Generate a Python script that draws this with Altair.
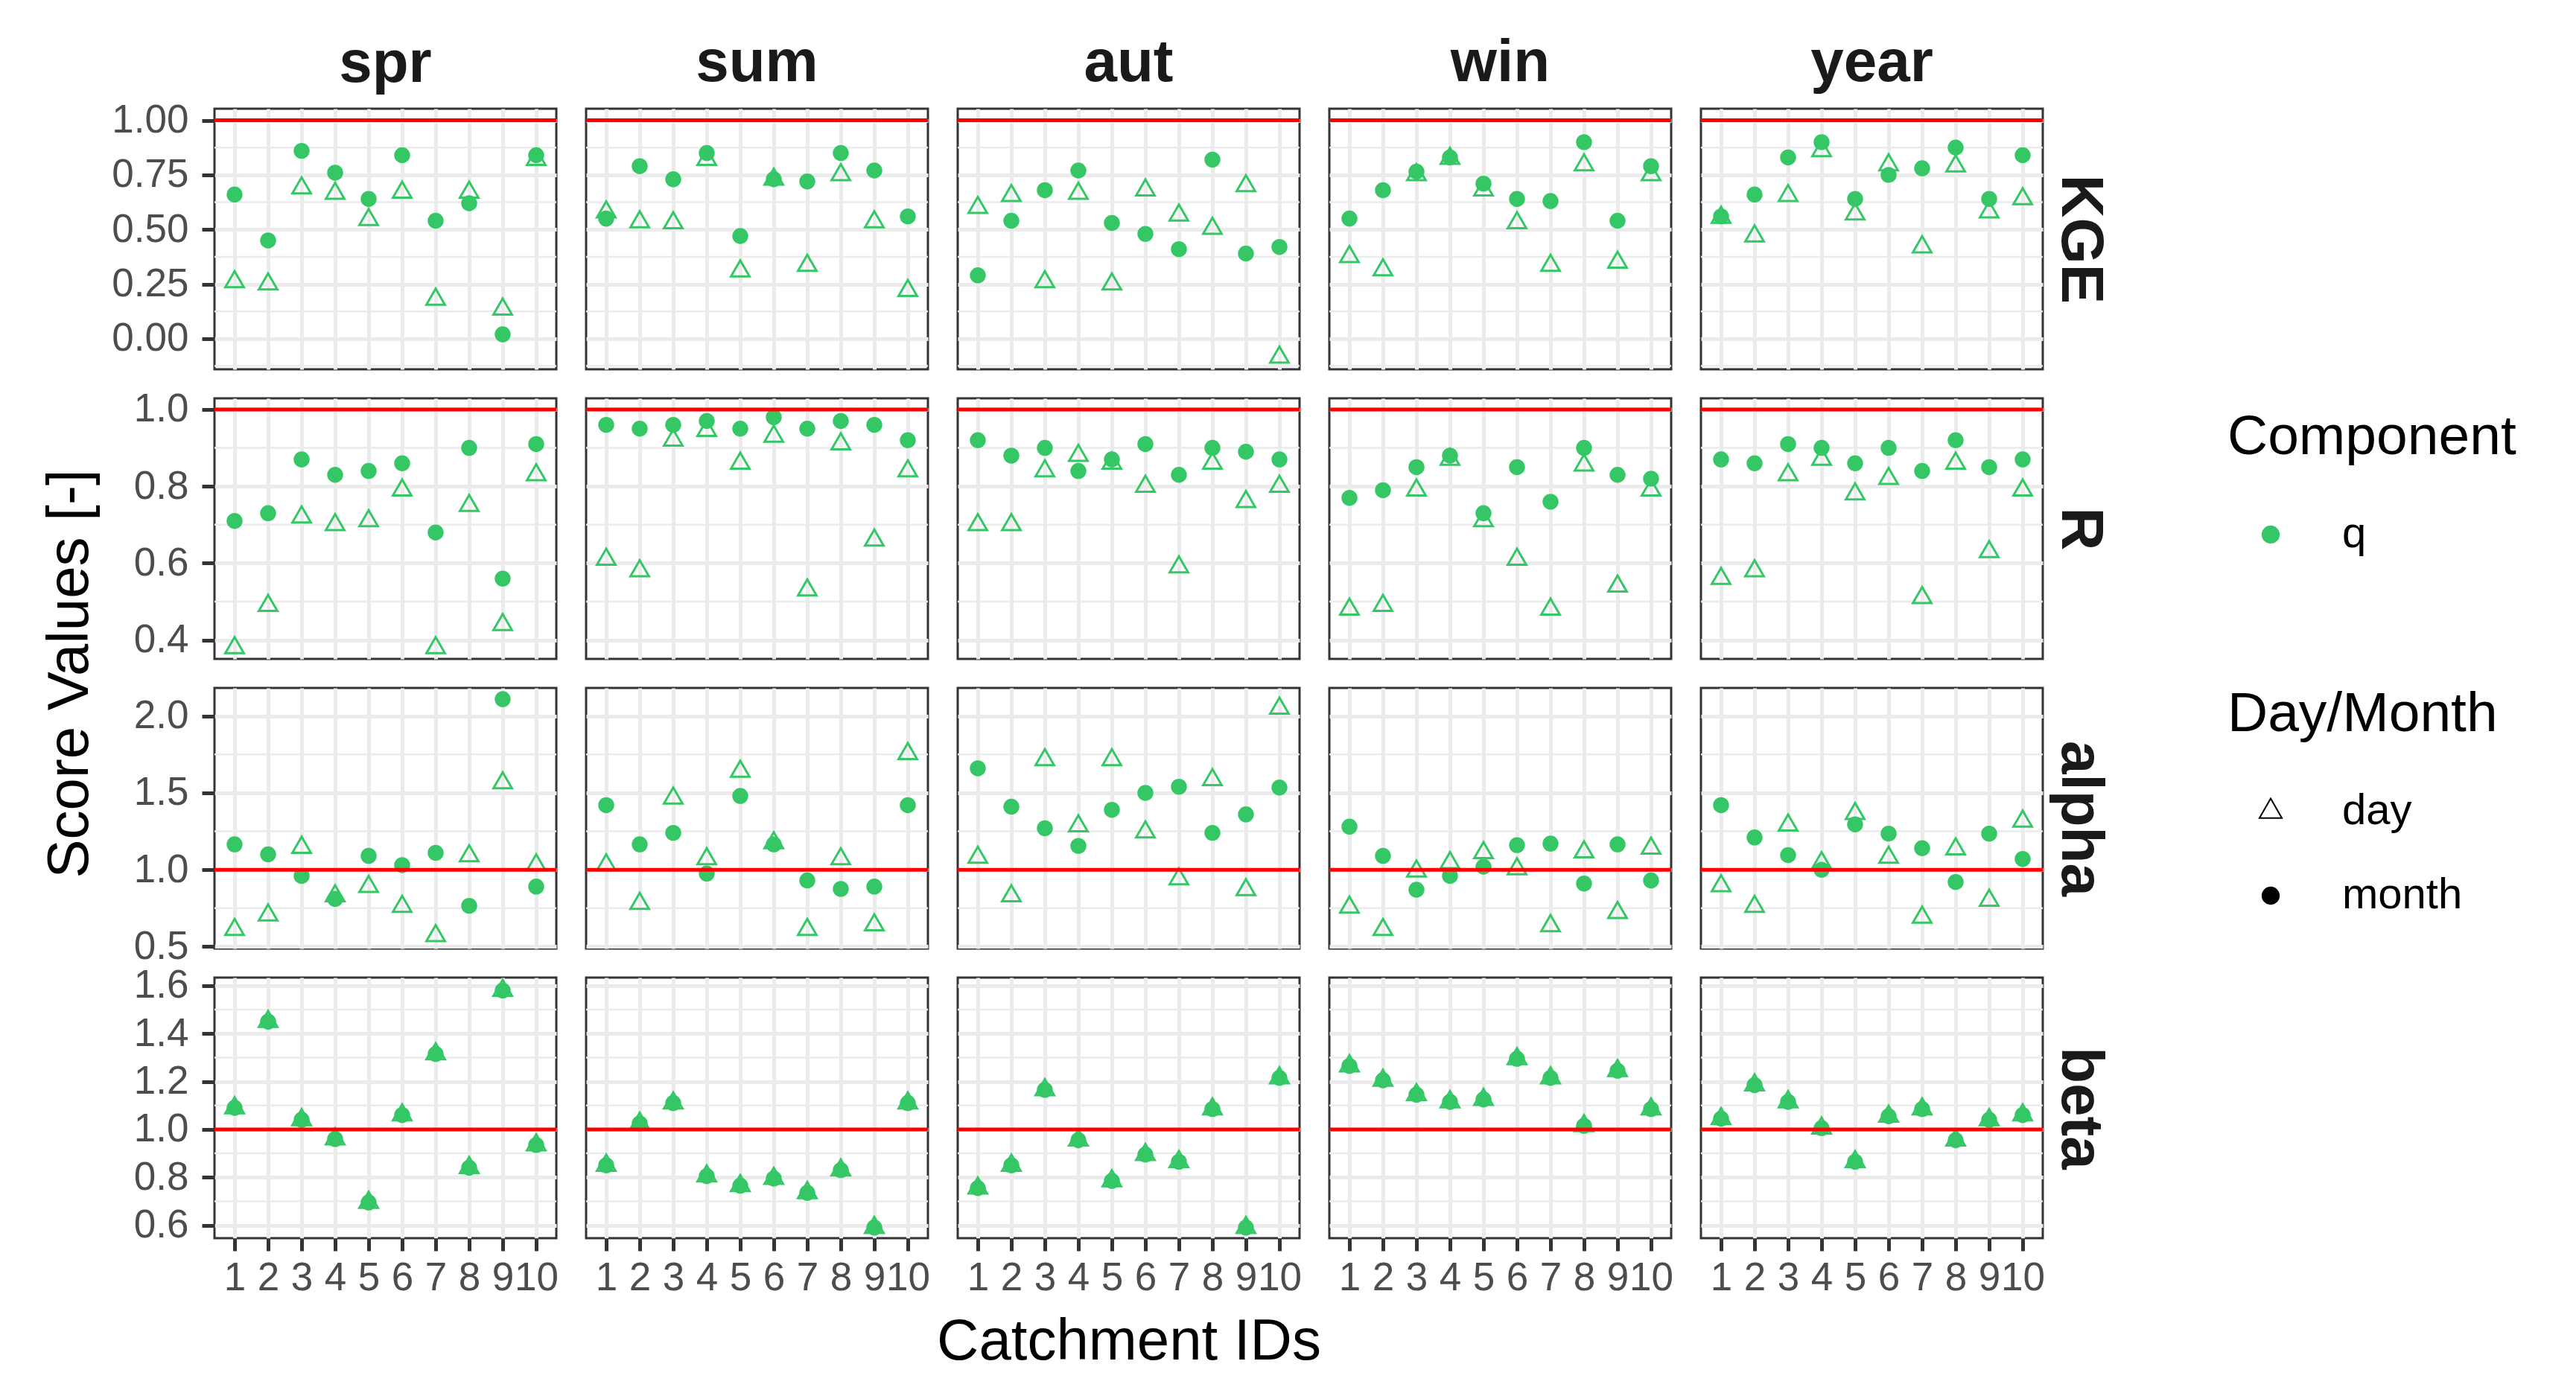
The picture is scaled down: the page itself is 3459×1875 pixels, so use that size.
import altair as alt
import pandas as pd

FONT = "Liberation Sans"
GREEN = "#35C766"

seasons = ["spr", "sum", "aut", "win", "year"]
metrics = ["KGE", "R", "alpha", "beta"]
catchments = [1, 2, 3, 4, 5, 6, 7, 8, 9, 10]
components = ["q"]
day_month = ["day", "month"]

kge_month = {
    "spr": [0.66, 0.45, 0.86, 0.76, 0.64, 0.84, 0.54, 0.62, 0.02, 0.84],
    "sum": [0.55, 0.79, 0.73, 0.85, 0.47, 0.73, 0.72, 0.85, 0.77, 0.56],
    "aut": [0.29, 0.54, 0.68, 0.77, 0.53, 0.48, 0.41, 0.82, 0.39, 0.42],
    "win": [0.55, 0.68, 0.765, 0.83, 0.71, 0.64, 0.63, 0.90, 0.54, 0.79],
    "year": [0.56, 0.66, 0.83, 0.90, 0.64, 0.75, 0.78, 0.875, 0.64, 0.84],
}
kge_day = {
    "spr": [0.26, 0.25, 0.69, 0.665, 0.545, 0.67, 0.18, 0.67, 0.135, 0.82],
    "sum": [0.58, 0.535, 0.53, 0.82, 0.31, 0.73, 0.335, 0.75, 0.535, 0.22],
    "aut": [0.60, 0.655, 0.26, 0.665, 0.25, 0.68, 0.565, 0.505, 0.70, -0.085],
    "win": [0.375, 0.315, 0.75, 0.825, 0.68, 0.53, 0.335, 0.795, 0.35, 0.75],
    "year": [0.555, 0.47, 0.655, 0.86, 0.57, 0.795, 0.42, 0.79, 0.58, 0.64],
}
r_month = {
    "spr": [0.71, 0.73, 0.87, 0.83, 0.84, 0.86, 0.68, 0.90, 0.56, 0.91],
    "sum": [0.96, 0.95, 0.96, 0.97, 0.95, 0.98, 0.95, 0.97, 0.96, 0.92],
    "aut": [0.92, 0.88, 0.90, 0.84, 0.87, 0.91, 0.83, 0.90, 0.89, 0.87],
    "win": [0.77, 0.79, 0.85, 0.88, 0.73, 0.85, 0.76, 0.90, 0.83, 0.82],
    "year": [0.87, 0.86, 0.91, 0.90, 0.86, 0.90, 0.84, 0.92, 0.85, 0.87],
}
r_day = {
    "spr": [0.38, 0.49, 0.72, 0.70, 0.71, 0.79, 0.38, 0.75, 0.44, 0.83],
    "sum": [0.61, 0.58, 0.92, 0.945, 0.86, 0.93, 0.53, 0.91, 0.66, 0.84],
    "aut": [0.70, 0.70, 0.84, 0.88, 0.86, 0.80, 0.59, 0.86, 0.76, 0.80],
    "win": [0.48, 0.49, 0.79, 0.87, 0.71, 0.61, 0.48, 0.855, 0.54, 0.79],
    "year": [0.56, 0.58, 0.83, 0.87, 0.78, 0.82, 0.51, 0.86, 0.63, 0.79],
}
alpha_month = {
    "spr": [1.165, 1.10, 0.96, 0.81, 1.09, 1.03, 1.11, 0.765, 2.11, 0.89],
    "sum": [1.42, 1.165, 1.24, 0.975, 1.48, 1.165, 0.93, 0.875, 0.89, 1.42],
    "aut": [1.66, 1.41, 1.27, 1.155, 1.39, 1.50, 1.54, 1.24, 1.36, 1.535],
    "win": [1.28, 1.09, 0.87, 0.96, 1.02, 1.16, 1.17, 0.91, 1.165, 0.93],
    "year": [1.42, 1.21, 1.095, 1.0, 1.295, 1.235, 1.14, 0.92, 1.235, 1.07],
}
alpha_day = {
    "spr": [0.61, 0.705, 1.145, 0.83, 0.89, 0.76, 0.57, 1.09, 1.565, 1.03],
    "sum": [1.03, 0.78, 1.465, 1.07, 1.64, 1.175, 0.61, 1.07, 0.64, 1.755],
    "aut": [1.08, 0.83, 1.715, 1.285, 1.715, 1.245, 0.94, 1.585, 0.87, 2.05],
    "win": [0.755, 0.61, 0.99, 1.045, 1.11, 1.005, 0.635, 1.115, 0.72, 1.14],
    "year": [0.895, 0.76, 1.29, 1.045, 1.365, 1.08, 0.69, 1.135, 0.80, 1.315],
}
beta_month = {
    "spr": [1.09, 1.45, 1.04, 0.96, 0.695, 1.06, 1.315, 0.84, 1.58, 0.935],
    "sum": [0.85, 1.025, 1.11, 0.805, 0.765, 0.795, 0.735, 0.83, 0.59, 1.11],
    "aut": [0.755, 0.85, 1.165, 0.955, 0.785, 0.895, 0.865, 1.085, 0.59, 1.215],
    "win": [1.265, 1.205, 1.145, 1.115, 1.125, 1.295, 1.215, 1.015, 1.245, 1.085],
    "year": [1.045, 1.185, 1.115, 1.005, 0.865, 1.055, 1.085, 0.955, 1.04, 1.06],
}
beta_day = {
    "spr": [1.09, 1.45, 1.04, 0.96, 0.695, 1.06, 1.315, 0.84, 1.58, 0.935],
    "sum": [0.85, 1.025, 1.11, 0.805, 0.765, 0.795, 0.735, 0.83, 0.59, 1.11],
    "aut": [0.755, 0.85, 1.165, 0.955, 0.785, 0.895, 0.865, 1.085, 0.59, 1.215],
    "win": [1.265, 1.205, 1.145, 1.115, 1.125, 1.295, 1.215, 1.015, 1.245, 1.085],
    "year": [1.045, 1.185, 1.115, 1.005, 0.865, 1.055, 1.085, 0.955, 1.04, 1.06],
}

month_values = {"KGE": kge_month, "R": r_month, "alpha": alpha_month, "beta": beta_month}
day_values = {"KGE": kge_day, "R": r_day, "alpha": alpha_day, "beta": beta_day}

y_domain = {"KGE": [-0.14, 1.053], "R": [0.351, 1.029], "alpha": [0.487, 2.183], "beta": [0.546, 1.634]}
y_major = {
    "KGE": [0.0, 0.25, 0.5, 0.75, 1.0],
    "R": [0.4, 0.6, 0.8, 1.0],
    "alpha": [0.5, 1.0, 1.5, 2.0],
    "beta": [0.6, 0.8, 1.0, 1.2, 1.4, 1.6],
}
y_minor = {
    "KGE": [-0.125, 0.125, 0.375, 0.625, 0.875],
    "R": [0.5, 0.7, 0.9],
    "alpha": [0.75, 1.25, 1.75],
    "beta": [0.7, 0.9, 1.1, 1.3, 1.5],
}
y_format = {"KGE": ".2f", "R": ".1f", "alpha": ".1f", "beta": ".1f"}
reference_line = [1.0]

TRIANGLE = "M0,-1.555L1.347,0.778L-1.347,0.778Z"

PANEL_W = 459
PANEL_H = 350
GAP_ROW = 39
GAP_COL = 40

# legend placement, relative to the top-left corner of the first panel
LEG_X = 2703
LEG1_Y = 405
LEG2_Y = 777

color_legend = alt.Legend(
    title="Component",
    symbolType="circle",
    orient="none", legendX=LEG_X, legendY=LEG1_Y,
)
shape_legend = alt.Legend(
    title="Day/Month",
    symbolFillColor=alt.ExprRef("datum.value === 'month' ? 'black' : 'transparent'"),
    symbolStrokeColor="black",
    orient="none", legendX=LEG_X, legendY=LEG2_Y,
)

shape_enc = alt.Shape("DayMonth:N", scale=alt.Scale(domain=day_month, range=[TRIANGLE, "circle"]),
                      legend=shape_legend)
color_enc = alt.Color("Component:N", scale=alt.Scale(domain=components, range=[GREEN]),
                      legend=color_legend)

stack_h = len(metrics) * PANEL_H + (len(metrics) - 1) * GAP_ROW

cells = []
n_rows = len(metrics)
for r, metric in enumerate(metrics):
    for c, season in enumerate(seasons):
        def frame(dm, src):
            return pd.DataFrame({
                "Catchment": catchments,
                "Value": src[season],
                "DayMonth": [dm] * len(catchments),
                "Component": [components[0]] * len(catchments),
            })
        day_df = frame("day", day_values[metric])
        month_df = frame("month", month_values[metric])

        bottom = r == n_rows - 1
        xkw = dict(labels=bottom, ticks=bottom, domain=False, grid=True, labelAngle=0,
                   title=None)
        if bottom and c == 2:
            xkw["title"] = "Catchment IDs"
        xenc = alt.X("Catchment:O", scale=alt.Scale(domain=catchments, padding=0.6),
                     axis=alt.Axis(**xkw))

        ykw = dict(values=y_major[metric], grid=True, domain=False, title=None)
        if c == 0:
            ykw.update(orient="left", labels=True, ticks=True, format=y_format[metric])
            if r == 1:
                ykw.update(title="Score Values [-]", titleX=-155,
                           titleY=stack_h / 2 - (PANEL_H + GAP_ROW))
        elif c == len(seasons) - 1:
            ykw.update(orient="right", labels=False, ticks=False, title=metric,
                       titleAngle=90, titleFontSize=80, titleFontWeight="bold",
                       titleColor="#1A1A1A", titlePadding=8)
        else:
            ykw.update(labels=False, ticks=False)
        yenc = alt.Y("Value:Q",
                     scale=alt.Scale(domain=y_domain[metric], nice=False, zero=False),
                     axis=alt.Axis(**ykw))

        minor = alt.Chart(pd.DataFrame({"Value": y_minor[metric]})).mark_rule(
            color="#EBEBEB", strokeWidth=2.5).encode(y=yenc)
        pts_month = alt.Chart(month_df).mark_point(
            filled=True, opacity=1, size=460).encode(
            x=xenc, y=yenc, shape=shape_enc, color=color_enc)
        pts_day = alt.Chart(day_df).mark_point(
            filled=False, opacity=1, strokeWidth=3, size=340).encode(
            x=xenc, y=yenc, shape=shape_enc, color=color_enc)
        ref = alt.Chart(pd.DataFrame({"Value": reference_line})).mark_rule(
            color="#FF0000", strokeWidth=5).encode(y=yenc)

        cell = alt.layer(minor, pts_month, pts_day, ref).properties(width=PANEL_W, height=PANEL_H)
        if r == 0:
            cell = cell.properties(title=alt.TitleParams(
                season, fontSize=80, fontWeight="bold", color="#1A1A1A",
                offset=9 if c == 0 else 20,
                anchor="middle", frame="group", font=FONT))
        cells.append(cell)

chart = alt.concat(
    *cells, columns=len(seasons), bounds="flush",
    spacing={"row": GAP_ROW, "column": GAP_COL},
).properties(
    padding={"left": 45, "top": 35, "right": 30, "bottom": 20},
).configure(
    font=FONT,
).configure_view(
    stroke="#333333", strokeWidth=3,
).configure_axis(
    labelFont=FONT, titleFont=FONT, labelFontSize=53, labelColor="#4D4D4D",
    tickColor="#333333", tickSize=17, tickWidth=5, gridColor="#EBEBEB", gridWidth=5,
    titleFontSize=78, titleFontWeight="normal", titleColor="black", titlePadding=20,
).configure_axisX(
    labelPadding=10,
).configure_axisY(
    labelPadding=18,
).configure_legend(
    titleFont=FONT, labelFont=FONT, titleFontSize=75, titleFontWeight="normal",
    titleColor="black", labelFontSize=58, labelColor="black", symbolSize=500,
    symbolStrokeWidth=2, rowPadding=55, titlePadding=63, labelOffset=67,
    symbolOffset=29, padding=0, titleLimit=1000, labelLimit=1000,
)

chart.save("out.html", embed_options={"renderer": "svg", "actions": False})
